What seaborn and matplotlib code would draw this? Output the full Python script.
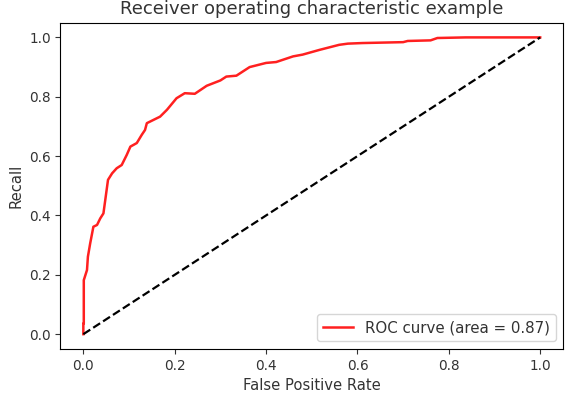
import numpy as np
import pandas as pd
import seaborn as sns
import matplotlib
matplotlib.use("Agg")
import matplotlib.pyplot as plt

# ROC curve points
fpr = [0.0, 0.0, 0.001, 0.001, 0.008, 0.010, 0.015, 0.022, 0.030, 0.037, 0.044,
       0.048, 0.054, 0.063, 0.073, 0.084, 0.095, 0.103, 0.117, 0.128, 0.135,
       0.139, 0.168, 0.183, 0.204, 0.222, 0.244, 0.270, 0.300, 0.313, 0.335,
       0.364, 0.400, 0.422, 0.459, 0.480, 0.517, 0.560, 0.579, 0.611, 0.700,
       0.710, 0.760, 0.775, 0.837, 1.0]
tpr = [0.0, 0.036, 0.036, 0.182, 0.216, 0.261, 0.306, 0.362, 0.368, 0.390, 0.407,
       0.452, 0.520, 0.542, 0.559, 0.570, 0.604, 0.632, 0.644, 0.672, 0.688,
       0.711, 0.733, 0.756, 0.795, 0.812, 0.810, 0.837, 0.855, 0.868, 0.871,
       0.900, 0.914, 0.917, 0.936, 0.942, 0.958, 0.975, 0.979, 0.981, 0.984,
       0.988, 0.990, 0.998, 1.0, 1.0]
diag = [0.0, 1.0]
roc_auc = 0.87

df = pd.DataFrame({"fpr": fpr, "tpr": tpr})

fig = plt.figure(figsize=(5.75, 4.03), dpi=100)
ax = fig.add_axes([0.1052, 0.134, 0.874, 0.810])

# estimator=None so repeated fpr values are not averaged away
sns.lineplot(x="fpr", y="tpr", data=df, sort=False, estimator=None,
             color="#ff2020", lw=1.8,
             label="ROC curve (area = %0.2f)" % roc_auc, ax=ax)
sns.lineplot(x=diag, y=diag, color="black", lw=1.6, ax=ax)
ax.lines[-1].set_linestyle("--")

ax.set_xlim(-0.05, 1.05)
ax.set_ylim(-0.05, 1.05)
ax.set_xticks([0.0, 0.2, 0.4, 0.6, 0.8, 1.0])
ax.set_yticks([0.0, 0.2, 0.4, 0.6, 0.8, 1.0])
ax.tick_params(labelsize=9.8, colors="#333333")
ax.set_xlabel("False Positive Rate", fontsize=10.6, color="#333333")
ax.set_ylabel("Recall", fontsize=10.6, color="#333333")
ax.set_title("Receiver operating characteristic example", fontsize=13, color="#333333")
leg = ax.legend(loc="lower right", fontsize=10.8)
for t in leg.get_texts():
    t.set_color("#333333")

plt.savefig("out.png", dpi=100)
